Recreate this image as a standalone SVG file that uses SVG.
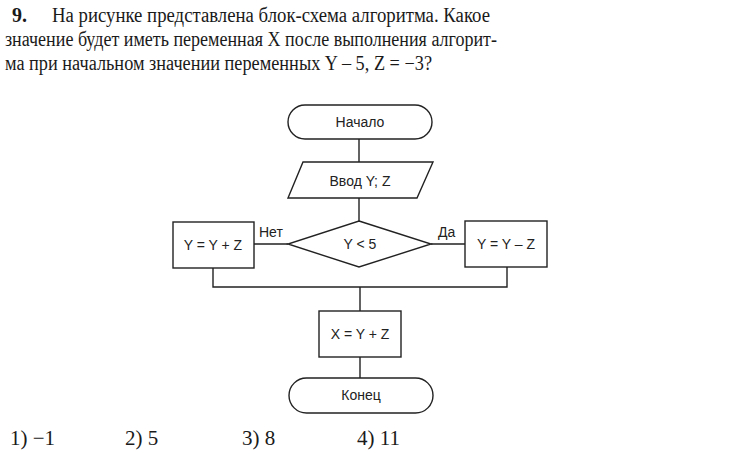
<svg xmlns="http://www.w3.org/2000/svg" width="750" height="454" viewBox="0 0 750 454">
<style>
.q{font-family:"Liberation Serif","DejaVu Serif",serif;font-size:20px;fill:#1a1a1a}
.a{font-family:"Liberation Serif","DejaVu Serif",serif;font-size:21px;fill:#1a1a1a}
.s{fill:#fff;stroke:#222;stroke-width:1.4}
.t{font-family:"Liberation Sans",Arial,sans-serif;font-size:14px;fill:#222;text-anchor:middle}
.l{font-family:"Liberation Sans",Arial,sans-serif;font-size:14px;fill:#222}
.c{fill:none;stroke:#222;stroke-width:1.4}
</style>
<rect width="750" height="454" fill="#fff"/>
<text class="q" x="12" y="22" font-weight="bold">9.</text>
<text class="q" x="52" y="22" textLength="438" lengthAdjust="spacingAndGlyphs">На рисунке представлена блок-схема алгоритма. Какое</text>
<text class="q" x="5" y="46" textLength="492" lengthAdjust="spacingAndGlyphs">значение будет иметь переменная X после выполнения алгорит-</text>
<text class="q" x="5" y="70" textLength="427" lengthAdjust="spacingAndGlyphs">ма при начальном значении переменных Y – 5, Z = −3?</text>
<g id="connectors">
<path class="c" d="M359 139V162M359 198V221M254 244H288M431 244H465M213 268V287H507V267M360 287V311M360 357V378"/>
</g>
<g id="start"><rect class="s" x="288" y="105" width="144" height="34" rx="17"/><text class="t" x="360" y="127">Начало</text></g>
<g id="input"><polygon class="s" points="303,162 433,162 417,198 288,198"/><text class="t" x="360" y="186">Ввод Y; Z</text></g>
<g id="cond"><polygon class="s" points="359,221 431,244 359,267 288,244"/><text class="t" x="360" y="249">Y &lt; 5</text></g>
<g id="no"><rect class="s" x="173" y="222" width="81" height="46"/><text class="t" x="213" y="250">Y = Y + Z</text></g>
<g id="yes"><rect class="s" x="465" y="221" width="82" height="46"/><text class="t" x="506" y="249">Y = Y – Z</text></g>
<text class="l" x="259" y="237">Нет</text>
<text class="l" x="438" y="237">Да</text>
<g id="calc"><rect class="s" x="319" y="311" width="82" height="46"/><text class="t" x="360" y="339">X = Y + Z</text></g>
<g id="end"><rect class="s" x="289" y="378" width="144" height="35" rx="17.5"/><text class="t" x="361" y="400">Конец</text></g>
<text class="a" x="10" y="445">1) −1</text>
<text class="a" x="125" y="445">2) 5</text>
<text class="a" x="242" y="445">3) 8</text>
<text class="a" x="357" y="445">4) 11</text>
</svg>
